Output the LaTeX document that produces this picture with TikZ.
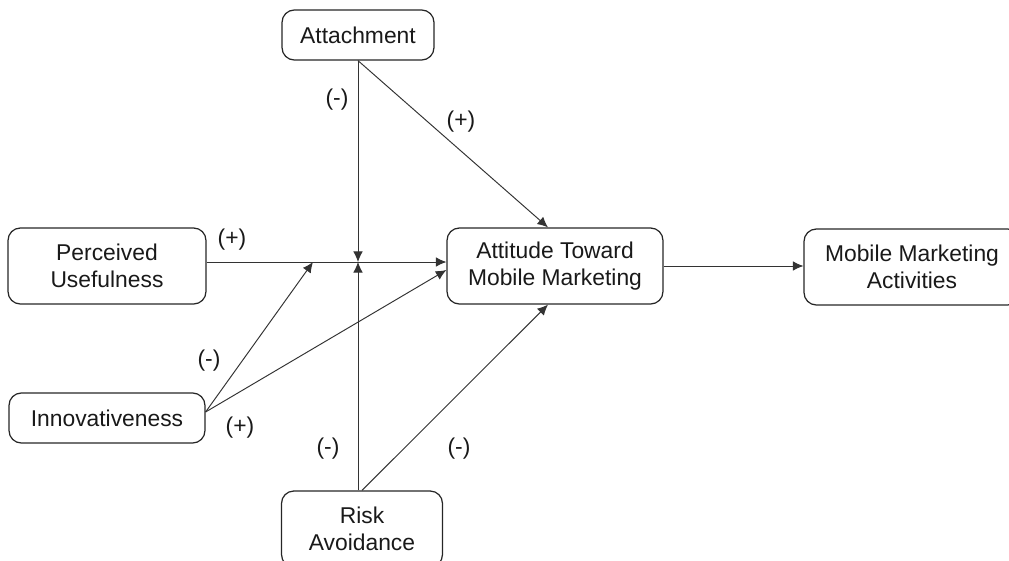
\documentclass[tikz,border=0pt]{standalone}
\usepackage{fontspec}
\setmainfont{Liberation Sans}
\usetikzlibrary{arrows.meta}

\tikzset{
  box/.style={draw=black!85, line width=0.7pt, rounded corners=7pt, align=center,
    inner sep=0pt, text=black!90, font=\fontsize{13}{15.5}\selectfont},
  link/.style={draw=black!80, line width=0.55pt, -{Latex[length=6pt,width=5.5pt]}},
  sign/.style={text=black!90, font=\fontsize{13}{15.5}\selectfont},
}

\begin{document}
\begin{tikzpicture}[x=0.02cm,y=-0.02cm]
\useasboundingbox (0,0) rectangle (1009,561);
% boxes
\node[box, minimum width=3.04cm, minimum height=1.0cm] (attach) at (358,35) {Attachment};
\node[box, minimum width=3.96cm, minimum height=1.52cm] (useful) at (107,266) {Perceived\\Usefulness};
\node[box, minimum width=3.92cm, minimum height=1.0cm] (innov) at (107,418) {Innovativeness};
\node[box, minimum width=4.32cm, minimum height=1.52cm] (attit) at (555,266) {Attitude Toward\\Mobile Marketing};
\node[box, minimum width=4.32cm, minimum height=1.52cm] (mobile) at (912,267) {Mobile Marketing\\Activities};
\node[box, minimum width=3.22cm, minimum height=1.52cm] (risk) at (362,529) {Risk\\Avoidance};
%
\coordinate (mid) at (358,262);
\coordinate (mid2) at (313,262);
%
\draw[link] (useful.east |- mid) -- (attit.west |- mid);
\draw[link] (attach.south) -- (mid);
\draw[link] (attach.south) -- ([xshift=-0.14cm]attit.north);
\draw[link] ([yshift=0.12cm]innov.east) -- (mid2);
\draw[link] ([yshift=0.12cm]innov.east) -- ([yshift=-0.08cm]attit.west);
\draw[link] (risk.north -| mid) -- (mid);
\draw[link] (risk.north) -- ([xshift=-0.14cm]attit.south);
\draw[link] (attit.east) -- (mobile.west |- attit.east);
%
\node[sign] (s1) at (232,240) {(+)};
\node[sign] (s2) at (337,100) {(-)};
\node[sign] (s3) at (461,122) {(+)};
\node[sign] (s4) at (209,361) {(-)};
\node[sign] (s5) at (240,428) {(+)};
\node[sign] (s6) at (328,449) {(-)};
\node[sign] (s7) at (459,449) {(-)};
\end{tikzpicture}
\end{document}
